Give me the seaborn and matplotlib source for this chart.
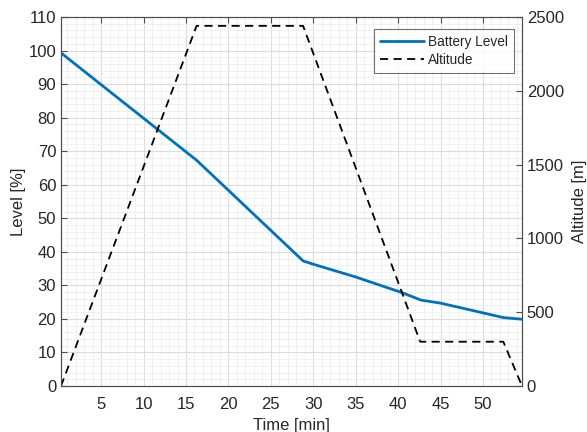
import numpy as np
import pandas as pd
import matplotlib
matplotlib.use("Agg")
import matplotlib.pyplot as plt
import seaborn as sns
from matplotlib.ticker import MultipleLocator

# Data
batt_time = [0.27, 16.25, 28.8, 30.0, 35.0, 40.5, 42.7, 45.0, 50.0, 52.4, 54.6]
batt_level = [99.3, 67.3, 37.3, 36.3, 32.5, 27.8, 25.6, 24.7, 21.8, 20.4, 19.9]
alt_time = [0.27, 16.25, 28.8, 42.6, 52.4, 54.6]
alt_value = [0, 2440, 2440, 300, 300, 0]
x_ticks = [5, 10, 15, 20, 25, 30, 35, 40, 45, 50]
left_ticks = [0, 10, 20, 30, 40, 50, 60, 70, 80, 90, 100, 110]
right_ticks = [0, 500, 1000, 1500, 2000, 2500]

sns.set_theme(style="white")
plt.rcParams['font.family'] = ['Liberation Sans', 'DejaVu Sans']

df_b = pd.DataFrame({"t": batt_time, "v": batt_level})
df_a = pd.DataFrame({"t": alt_time, "v": alt_value})

fig = plt.figure(figsize=(5.87, 4.32), dpi=100)
ax = fig.add_axes([61/587, 1 - 386/432, (522-61)/587, (386-17)/432])
ax2 = ax.twinx()

axcol = "#4d4d4d"
txtcol = "#262626"

sns.lineplot(data=df_b, x="t", y="v", ax=ax, color="#0072BD", lw=2.0, label="Battery Level", legend=False)
sns.lineplot(data=df_a, x="t", y="v", ax=ax2, color="black", lw=1.3, ls=(0, (4.5, 3)), label="Altitude", legend=False)

ax.set_xlim(0.27, 54.6)
ax.set_ylim(0, 110)
ax2.set_ylim(0, 2500)
ax.set_xticks(x_ticks)
ax.set_yticks(left_ticks)
ax2.set_yticks(right_ticks)
ax.xaxis.set_minor_locator(MultipleLocator(1))
ax.yaxis.set_minor_locator(MultipleLocator(2))
ax.grid(True, which="major", color="#dcdcdc", lw=0.8)
ax.grid(True, which="minor", color="#eeeeee", lw=0.6)
ax.set_axisbelow(True)

for a in (ax, ax2):
    for s in a.spines.values():
        s.set_color(axcol)
        s.set_linewidth(0.8)
    a.tick_params(axis="both", which="major", direction="in", length=4, color=axcol,
                  labelcolor=txtcol, labelsize=12, width=0.8)
    a.tick_params(axis="both", which="minor", length=0)
ax.tick_params(top=True, which="major", direction="in")
ax.tick_params(axis="x", pad=8)
ax2.tick_params(right=True, left=False)

ax.set_xlabel("Time [min]", fontsize=12, color=txtcol, labelpad=4)
ax.set_ylabel("Level [%]", fontsize=12, color=txtcol, labelpad=2)
ax2.set_ylabel("Altitude [m]", fontsize=12, color=txtcol, labelpad=6)

h1, l1 = ax.get_legend_handles_labels()
h2, l2 = ax2.get_legend_handles_labels()
leg = ax2.legend(h1 + h2, l1 + l2, loc="upper right", fontsize=9.8, frameon=True,
                 fancybox=False, edgecolor=axcol, borderpad=0.45, handlelength=3.2,
                 handletextpad=0.3, labelspacing=0.25, borderaxespad=0,
                 bbox_to_anchor=(514/587, 1 - 29/432), bbox_transform=fig.transFigure)
leg.get_frame().set_linewidth(0.8)
for t in leg.get_texts():
    t.set_color(txtcol)

fig.savefig("out.png", dpi=100)
